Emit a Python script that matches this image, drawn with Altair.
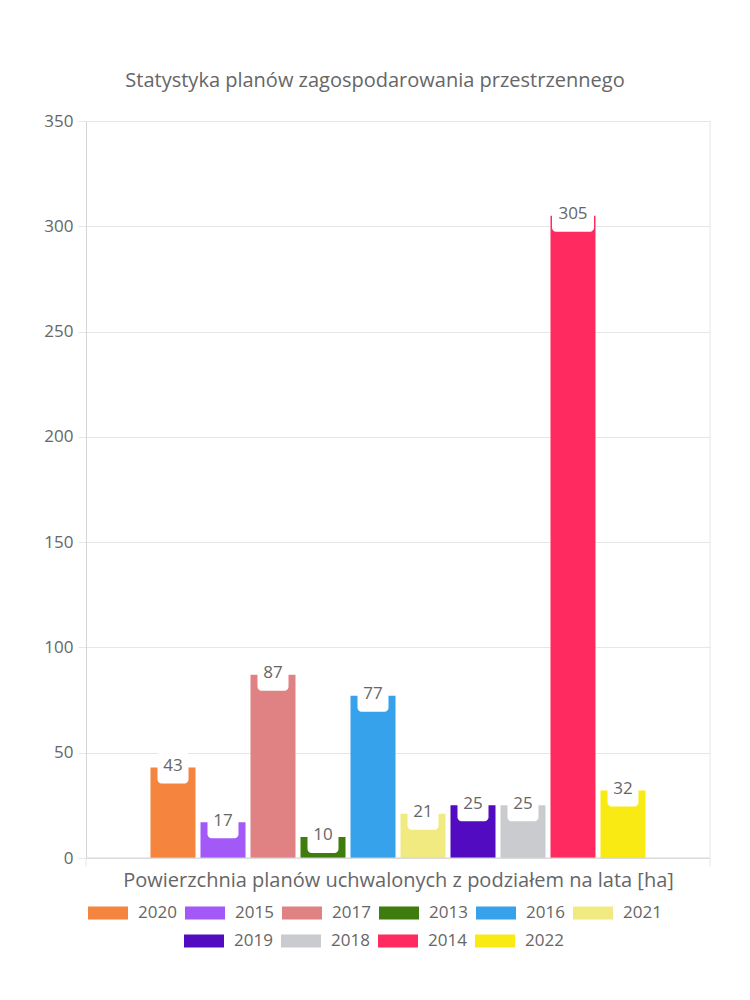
import altair as alt
import pandas as pd

FONT = "Open Sans"
TEXT = "#666666"

title_text = "Statystyka planów zagospodarowania przestrzennego"
x_title = "Powierzchnia planów uchwalonych z podziałem na lata [ha]"

years = ["2020", "2015", "2017", "2013", "2016", "2021", "2019", "2018", "2014", "2022"]
values = [43, 17, 87, 10, 77, 21, 25, 25, 305, 32]
colors = ["#f5843f", "#a259f7", "#e08284", "#3d7c0d", "#36a2eb",
          "#f0ea80", "#520bc0", "#c9cbcf", "#ff2a5f", "#f8ea12"]
row1 = years[:6]
row2 = years[6:]
y_ticks = [0, 50, 100, 150, 200, 250, 300, 350]
# empty slots on both sides of the single category group
x_domain = [" "] + years + ["  "]

df = pd.DataFrame({"rok": years, "wartosc": values})

W, H = 624, 737

x_enc = alt.X(
    "rok:N",
    scale=alt.Scale(domain=x_domain, paddingInner=0.1, paddingOuter=0.29),
    axis=alt.Axis(title=x_title, labels=False, ticks=False, domain=False,
                  grid=False, titleFont=FONT,
                  titleFontSize=20, titleFontWeight="normal", titleColor=TEXT,
                  titlePadding=12),
)
y_enc = alt.Y(
    "wartosc:Q",
    scale=alt.Scale(domain=[0, 350], nice=False),
    axis=alt.Axis(values=y_ticks, title=None, grid=True, gridColor="#e6e6e6",
                  tickColor="#e6e6e6", tickSize=8, domainColor="#d4d4d4",
                  labelFont=FONT, labelFontSize=17, labelColor=TEXT,
                  labelPadding=5),
)

rect_path = "M-1,-0.33H1V0.33H-1Z"


def legend(x, y):
    return alt.Legend(orient="none", legendX=x, legendY=y, direction="horizontal",
                      title=None, symbolType=rect_path, symbolSize=1600,
                      symbolStrokeWidth=0, symbolOpacity=1, labelFont=FONT,
                      labelFontSize=17, labelColor=TEXT, labelOffset=10,
                      columnPadding=8, padding=0)


base = alt.Chart(df)

bars1 = base.transform_filter(
    alt.FieldOneOfPredicate(field="rok", oneOf=row1)
).mark_bar().encode(
    x=x_enc, y=y_enc,
    color=alt.Color("rok:N", scale=alt.Scale(domain=row1, range=colors[:6]),
                    legend=legend(2, 772)),
)

bars2 = base.transform_filter(
    alt.FieldOneOfPredicate(field="rok", oneOf=row2)
).mark_bar().encode(
    x=x_enc, y=y_enc,
    color=alt.Color("rok:N", scale=alt.Scale(domain=row2, range=colors[6:]),
                    legend=legend(98, 800)),
)

box_small = base.transform_filter("datum.wartosc < 100").mark_bar(
    width=31, color="white", cornerRadius=4, yOffset=-16, y2Offset=16
).encode(x=x_enc, y=y_enc, y2=alt.Y2("wartosc:Q"))

box_big = base.transform_filter("datum.wartosc >= 100").mark_bar(
    width=42, color="white", cornerRadius=4, yOffset=-16, y2Offset=16
).encode(x=x_enc, y=y_enc, y2=alt.Y2("wartosc:Q"))

labels = base.mark_text(font=FONT, fontSize=17, color=TEXT, baseline="middle",
                        dy=-1.5).encode(x=x_enc, y=y_enc, text="wartosc:Q")

edge = pd.DataFrame({"k": [0]})
frame_bottom = alt.Chart(edge).mark_rule(color="#d4d4d4").encode(
    x=alt.value(0), x2=alt.value(W), y=alt.value(H))
tick_left = alt.Chart(edge).mark_rule(color="#e6e6e6").encode(
    x=alt.value(0), y=alt.value(H), y2=alt.value(H + 8))
tick_right = alt.Chart(edge).mark_rule(color="#e6e6e6").encode(
    x=alt.value(W), y=alt.value(0), y2=alt.value(H + 8))

chart = alt.layer(
    bars1, bars2, box_small, box_big, labels, frame_bottom, tick_left, tick_right
).resolve_scale(color="independent").properties(
    width=W, height=H,
    title=alt.TitleParams(title_text, font=FONT, fontSize=20, fontWeight="normal",
                          color=TEXT, anchor="middle", dx=-23, offset=21),
    autosize=alt.AutoSizeParams(type="none"),
    padding={"left": 86, "top": 121, "right": 40, "bottom": 142},
).configure_view(stroke=None)

chart.save("out.html", embed_options={"renderer": "svg", "actions": False})
